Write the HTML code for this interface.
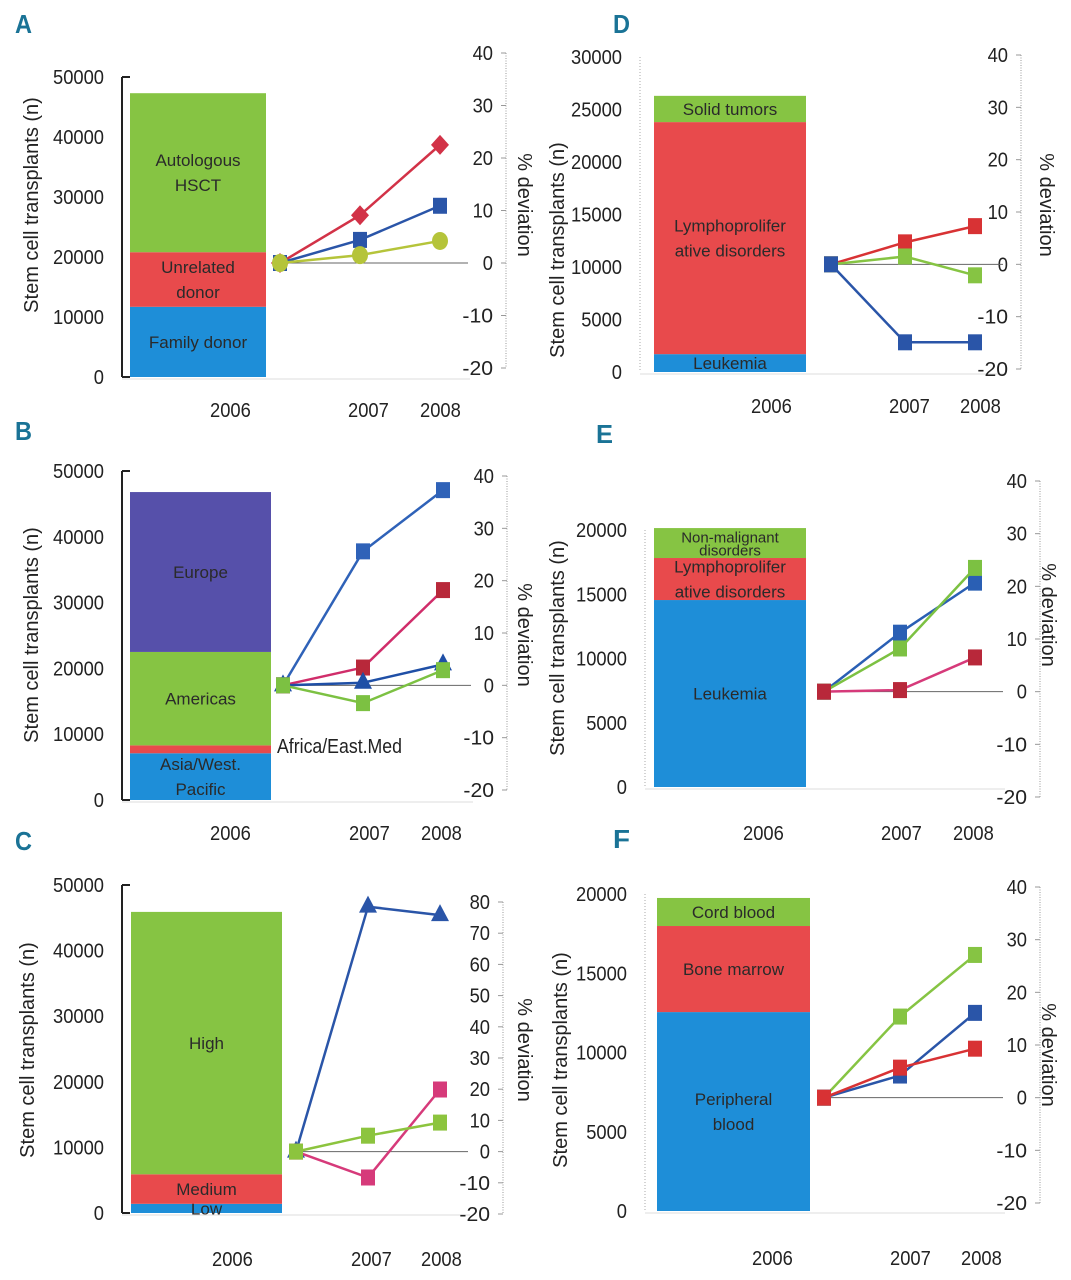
<!DOCTYPE html>
<html><head><meta charset="utf-8"><style>
body{margin:0;background:#fff;}
svg{display:block;}
text{font-family:"Liberation Sans Narrow","Liberation Sans",sans-serif;}
.seg{font-family:"Liberation Sans",sans-serif;fill:#2a2a2a;}
</style></head><body>
<svg id="fig" width="1071" height="1280" viewBox="0 0 1071 1280"></svg>
<script>
// ---------- DATA ----------
const years = ["2006","2007","2008"];
// Panel A
const aSegValues = [11700, 9100, 26500];
const aSegLabels = [["Family donor"],["Unrelated","donor"],["Autologous","HSCT"]];
const aSeriesRed = [0, 9.1, 22.5];
const aSeriesBlue = [0, 4.4, 10.9];
const aSeriesGreen = [0, 1.5, 4.2];
// Panel B
const bSegValues = [7100, 1200, 14200, 24300];
const bSegLabels = [["Asia/West.","Pacific"],[],["Americas"],["Europe"]];
const bSeriesBlue = [0, 25.6, 37.3];
const bSeriesRed = [0, 3.4, 18.2];
const bSeriesNavy = [0, 0.5, 4.0];
const bSeriesGreen = [0, -3.4, 2.9];
// Panel C
const cSegValues = [1400, 4500, 40000];
const cSegLabels = [["Low"],["Medium"],["High"]];
const cSeriesBlue = [0, 78.5, 75.8];
const cSeriesPink = [0, -8.3, 19.9];
const cSeriesGreen = [0, 5.1, 9.3];
// Panel D
const dSegValues = [1700, 22100, 2500];
const dSegLabels = [["Leukemia"],["Lymphoprolifer","ative disorders"],["Solid tumors"]];
const dSeriesRed = [0, 4.2, 7.3];
const dSeriesGreen = [0, 1.5, -2.1];
const dSeriesBlue = [0, -14.9, -14.9];
// Panel E
const eSegValues = [14550, 3270, 2330];
const eSegLabels = [["Leukemia"],["Lymphoprolifer","ative disorders"],["Non-malignant","disorders"]];
const eSeriesBlue = [0, 11.2, 20.7];
const eSeriesGreen = [0, 8.2, 23.5];
const eSeriesRed = [0, 0.3, 6.5];
// Panel F
const fSegValues = [12550, 5430, 1770];
const fSegLabels = [["Peripheral","blood"],["Bone marrow"],["Cord blood"]];
const fSeriesGreen = [0, 15.4, 27.1];
const fSeriesBlue = [0, 4.2, 16.1];
const fSeriesRed = [0, 5.7, 9.3];
// tick labels
const leftTicks50 = [0,10000,20000,30000,40000,50000];
const leftTicks30 = [0,5000,10000,15000,20000,25000,30000];
const leftTicks20 = [0,5000,10000,15000,20000];
const rightTicks40 = [-20,-10,0,10,20,30,40];
const rightTicks80 = [-20,-10,0,10,20,30,40,50,60,70,80];

// ---------- LAYOUT ----------
const GREEN="#86c443", RED="#e84a4c", BLUE="#1e8ed8", PURPLE="#5650aa";
const panels = [
 {id:"a",letter:"A",lx:15,ly:33,axisX:122,solidAxis:true,y0:377,yTop:77,lMax:50000,lTicks:leftTicks50,
  barX:130,barW:136,segs:aSegValues,segLabels:aSegLabels,segColors:[BLUE,RED,GREEN],
  rX:490,rTopPx:53,rBotPx:368,rMax:40,rMin:-20,rTicks:rightTicks40,xs:[280,360,440],
  yearX:[230,368,440],yearY:417,titleX:38,titleY:205,rTitleX:518,rTitleY:205,
  series:[{v:aSeriesRed,c:"#d23247",m:"diamond",n:"autologous"},{v:aSeriesBlue,c:"#2a55a8",m:"square",n:"unrelated"},{v:aSeriesGreen,c:"#b5c43a",m:"circle",n:"family"}]},
 {id:"b",letter:"B",lx:15,ly:440,axisX:122,solidAxis:true,y0:800,yTop:471,lMax:50000,lTicks:leftTicks50,
  barX:130,barW:141,segs:bSegValues,segLabels:bSegLabels,segColors:[BLUE,RED,GREEN,PURPLE],
  rX:491,rTopPx:476,rBotPx:790,rMax:40,rMin:-20,rTicks:rightTicks40,xs:[283,363,443],
  yearX:[230,369,441],yearY:840,titleX:38,titleY:635,rTitleX:518,rTitleY:635,
  series:[{v:bSeriesBlue,c:"#2f62b8",m:"square",n:"europe"},{v:bSeriesRed,c:"#d02d6a",m:"square",n:"americas",mc:"#b8283a"},{v:bSeriesNavy,c:"#1f4fa6",m:"triangle",n:"asia"},{v:bSeriesGreen,c:"#7cc142",m:"square",n:"africa"}]},
 {id:"c",letter:"C",lx:15,ly:850,axisX:122,solidAxis:true,y0:1213,yTop:885,lMax:50000,lTicks:leftTicks50,
  barX:131,barW:151,segs:cSegValues,segLabels:cSegLabels,segColors:[BLUE,RED,GREEN],
  rX:487,rTopPx:902,rBotPx:1214,rMax:80,rMin:-20,rTicks:rightTicks80,xs:[296,368,440],
  yearX:[232,371,441],yearY:1266,titleX:34,titleY:1050,rTitleX:518,rTitleY:1050,
  series:[{v:cSeriesBlue,c:"#2a55a8",m:"triangle",n:"high"},{v:cSeriesPink,c:"#d63a7a",m:"square",n:"medium"},{v:cSeriesGreen,c:"#8cc43e",m:"square",n:"low"}]},
 {id:"d",letter:"D",lx:613,ly:33,axisX:640,solidAxis:false,y0:372,yTop:57,lMax:30000,lTicks:leftTicks30,
  barX:654,barW:152,segs:dSegValues,segLabels:dSegLabels,segColors:[BLUE,RED,GREEN],
  rX:1005,rTopPx:55,rBotPx:369,rMax:40,rMin:-20,rTicks:rightTicks40,xs:[831,905,975],
  yearX:[771,909,980],yearY:413,titleX:564,titleY:250,rTitleX:1040,rTitleY:205,
  series:[{v:dSeriesRed,c:"#d83234",m:"square",n:"lympho"},{v:dSeriesGreen,c:"#86c443",m:"square",n:"solid"},{v:dSeriesBlue,c:"#2a55a8",m:"square",n:"leukemia"}]},
 {id:"e",letter:"E",lx:596,ly:443,axisX:645,solidAxis:false,y0:787,yTop:530,lMax:20000,lTicks:leftTicks20,
  barX:654,barW:152,segs:eSegValues,segLabels:eSegLabels,segColors:[BLUE,RED,GREEN],
  rX:1024,rTopPx:481,rBotPx:797,rMax:40,rMin:-20,rTicks:rightTicks40,xs:[824,900,975],
  yearX:[763,901,973],yearY:840,titleX:564,titleY:648,rTitleX:1042,rTitleY:615,
  series:[{v:eSeriesBlue,c:"#2a5fb4",m:"square",n:"leukemia"},{v:eSeriesGreen,c:"#7cc142",m:"square",n:"nonmalignant"},{v:eSeriesRed,c:"#d63a7a",m:"square",n:"lympho",mc:"#b8283a"}]},
 {id:"f",letter:"F",lx:613,ly:848,axisX:645,solidAxis:false,y0:1211,yTop:894,lMax:20000,lTicks:leftTicks20,
  barX:657,barW:153,segs:fSegValues,segLabels:fSegLabels,segColors:[BLUE,RED,GREEN],
  rX:1024,rTopPx:887,rBotPx:1203,rMax:40,rMin:-20,rTicks:rightTicks40,xs:[824,900,975],
  yearX:[772,910,981],yearY:1265,titleX:567,titleY:1060,rTitleX:1042,rTitleY:1055,
  series:[{v:fSeriesGreen,c:"#86c443",m:"square",n:"cord"},{v:fSeriesBlue,c:"#2a55a8",m:"square",n:"peripheral"},{v:fSeriesRed,c:"#d83234",m:"square",n:"marrow"}]}
];

const NS="http://www.w3.org/2000/svg";
const svg=document.getElementById("fig");
function mk(tag,attrs,parent,txt){const e=document.createElementNS(NS,tag);for(const k in attrs)e.setAttribute(k,attrs[k]);if(txt!==undefined)e.textContent=txt;parent.appendChild(e);return e;}
function narrow(str){return {textLength:String(str).length*10.2,lengthAdjust:"spacingAndGlyphs"};}

panels.forEach(p=>{
  const g=mk("g",{},svg);
  
  
  const yL=v=>p.y0-(v/p.lMax)*(p.y0-p.yTop);
  const yR=v=>p.rBotPx-(v-p.rMin)/(p.rMax-p.rMin)*(p.rBotPx-p.rTopPx);
  const lt=mk("text",{x:p.lx,y:p.ly,"font-size":26,"font-weight":"bold",fill:"#1a7396",textLength:17,lengthAdjust:"spacingAndGlyphs"},g,p.letter);
  
  
  const ax=mk("line",{x1:p.axisX,y1:p.yTop,x2:p.axisX,y2:p.y0,stroke:p.solidAxis?"#222":"#aaa","stroke-width":p.solidAxis?2:1,"stroke-dasharray":p.solidAxis?"":"1,2"},g);
  
  
  if(p.solidAxis){mk("line",{x1:p.axisX,y1:p.yTop,x2:p.axisX+8,y2:p.yTop,stroke:"#222","stroke-width":2},g);mk("line",{x1:p.axisX,y1:p.y0,x2:p.axisX+8,y2:p.y0,stroke:"#222","stroke-width":2},g);}
  p.lTicks.forEach(t=>{const tx=mk("text",Object.assign({x:p.axisX-18-String(t).length*10.2,y:yL(t)+7,"font-size":20,fill:"#222"},narrow(t)),g,String(t));
    
    });
  const tt=mk("text",{x:p.titleX,y:p.titleY,"font-size":20,"text-anchor":"middle",fill:"#222",transform:`rotate(-90 ${p.titleX} ${p.titleY})`},g,"Stem cell transplants (n)");
  
  
  mk("line",{x1:p.axisX,y1:p.y0+2,x2:p.xs[2]+30,y2:p.y0+2,stroke:"#ddd","stroke-width":1},g);
  let cum=0;
  p.segs.forEach((v,i)=>{
    const top=yL(cum+v),bot=yL(cum);
    const r=mk("rect",{x:p.barX,y:top,width:p.barW,height:bot-top,fill:p.segColors[i]},g);
    
    
    const lines=p.segLabels[i];const cy=(top+bot)/2;const small=(p.id==="e"&&i===2);const lh=small?13:(lines.length>1?25:0);
    lines.forEach((s,j)=>{const ty=cy+(j-(lines.length-1)/2)*lh+6;
      const t=mk("text",{class:"seg",x:p.barX+p.barW/2,y:ty,"text-anchor":"middle","font-size":small?15:17},g,s);
      
      });
    cum+=v;
  });
  if(p.id==="b"){const t=mk("text",{x:277,y:753,"font-size":20,fill:"#222",textLength:125,lengthAdjust:"spacingAndGlyphs"},g,"Africa/East.Med");
    
    }
  const ra=mk("line",{x1:p.rX+16,y1:p.rTopPx,x2:p.rX+16,y2:p.rBotPx,stroke:"#999","stroke-width":1,"stroke-dasharray":"1,1.5"},g);
  
  
  p.rTicks.forEach(t=>{mk("line",{x1:p.rX+11,y1:yR(t),x2:p.rX+16,y2:yR(t),stroke:"#999","stroke-width":1},g);
    const tx=mk("text",Object.assign({x:p.rX+3-String(t).length*10.2,y:yR(t)+7,"font-size":20,fill:"#222"},narrow(t)),g,String(t));
    
    });
  const rt=mk("text",{x:p.rTitleX,y:p.rTitleY,"font-size":20,"text-anchor":"middle",fill:"#222",transform:`rotate(90 ${p.rTitleX} ${p.rTitleY})`},g,"% deviation");
  
  
  mk("line",{x1:p.xs[0],y1:yR(0),x2:p.xs[2]+28,y2:yR(0),stroke:"#666","stroke-width":1},g);
  years.forEach((yv,i)=>{const t=mk("text",Object.assign({x:p.yearX[i]-20,y:p.yearY,"font-size":20,fill:"#222"},narrow(yv)),g,yv);
    
    });
  p.series.forEach(s=>{
    const pts=s.v.map((v,i)=>[p.xs[i],yR(v)]);
    const pl=mk("polyline",{points:pts.map(q=>q.join(",")).join(" "),fill:"none",stroke:s.c,"stroke-width":2.5},g);
    
    
    const mc=s.mc||s.c;
    pts.forEach(([x,y])=>{let m;
      if(s.m==="square")m=mk("rect",{x:x-7,y:y-8,width:14,height:16,fill:mc},g);
      else if(s.m==="diamond")m=mk("polygon",{points:`${x},${y-10} ${x+9},${y} ${x},${y+10} ${x-9},${y}`,fill:mc},g);
      else if(s.m==="circle")m=mk("ellipse",{cx:x,cy:y,rx:8,ry:9,fill:mc},g);
      else m=mk("polygon",{points:`${x},${y-11} ${x+9},${y+6} ${x-9},${y+6}`,fill:mc},g);
      
      });
  });
});
</script>
</body></html>
